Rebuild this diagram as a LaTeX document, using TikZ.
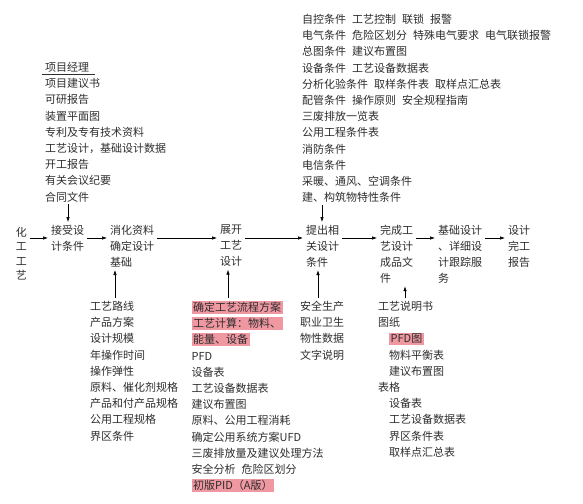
\documentclass[tikz,border=0pt]{standalone}
\usepackage{fontspec}
\setmainfont{Noto Sans CJK SC}
\usetikzlibrary{arrows.meta}
\definecolor{hlpink}{RGB}{240,152,162}
\definecolor{ink}{RGB}{45,45,45}
\setlength{\fboxsep}{1.5pt}
\newcommand{\hilite}[1]{\colorbox{hlpink}{#1}}
\newcommand{\ind}{\hspace*{11pt}}
\newcommand{\gap}{\hspace{6pt}}
\newcommand{\headline}[1]{\rlap{\hspace*{-3pt}\rule[-3pt]{53pt}{0.6pt}}#1}
\tikzset{
  stage/.style={anchor=north west, inner sep=0pt, outer sep=3pt, align=left,
    font=\fontsize{11}{16}\selectfont, text=ink},
  itemlist/.style={anchor=north west, inner sep=0pt, align=left,
    font=\fontsize{11}{16.2}\selectfont, text=ink},
}
\begin{document}
\begin{tikzpicture}[x=1pt,y=-1pt]
      \useasboundingbox (0,0) rectangle (583,503);
      \begin{scope}[every node/.style={stage}]
      \node[font=\fontsize{11}{14.5}\selectfont] (src) at (13,224) {化\\工\\工\\艺};
      \node (recv) at (48,222) {接受设\\计条件};
      \node (digest) at (107,222) {消化资料\\确定设计\\基础};
      \node (expand) at (217,222) {展开\\工艺\\设计};
      \node (issue) at (303,222) {提出相\\关设计\\条件};
      \node (finish) at (377,222) {完成工\\艺设计\\成品文\\件};
      \node (basic) at (435,222) {基础设计\\、详细设\\计跟踪服\\务};
      \node (report) at (505,222) {设计\\完工\\报告};
      \end{scope}
      \begin{scope}[every node/.style={itemlist}]
      \node (pm) at (45,62) {\headline{项目经理}\\项目建议书\\可研报告\\装置平面图\\专利及专有技术资料\\工艺设计，基础设计数据\\开工报告\\有关会议纪要\\合同文件};
      \node (cond) at (302,14) {自控条件\gap 工艺控制\gap 联锁\gap 报警\\电气条件\gap 危险区划分\gap 特殊电气要求\gap 电气联锁报警\\总图条件\gap 建议布置图\\设备条件\gap 工艺设备数据表\\分析化验条件\gap 取样条件表\gap 取样点汇总表\\配管条件\gap 操作原则\gap 安全规程指南\\三废排放一览表\\公用工程条件表\\消防条件\\电信条件\\采暖、通风、空调条件\\建、构筑物特性条件};
      \node (basis) at (90,301) {工艺路线\\产品方案\\设计规模\\年操作时间\\操作弹性\\原料、催化剂规格\\产品和付产品规格\\公用工程规格\\界区条件};
      \node (calc) at (191.5,300.5) {\hilite{确定工艺流程方案}\\\hilite{工艺计算：物料、}\\\hilite{能量、设备}\\PFD\\设备表\\工艺设备数据表\\建议布置图\\原料、公用工程消耗\\确定公用系统方案UFD\\三废排放量及建议处理方法\\安全分析\gap 危险区划分\\\hilite{初版PID（A版）}};
      \node (safety) at (300,301) {安全生产\\职业卫生\\物性数据\\文字说明};
      \node (docs) at (378,301) {工艺说明书\\图纸\\\ind\hilite{PFD图}\\\ind 物料平衡表\\\ind 建议布置图\\表格\\\ind 设备表\\\ind 工艺设备数据表\\\ind 界区条件表\\\ind 取样点汇总表};
      \end{scope}
      % where the connectors run
      \coordinate (row) at (0,238);
      \coordinate (x1) at (68,0);
      \coordinate (x2) at (115,0);
      \coordinate (x3) at (228,0);
      \coordinate (x4) at (322,0);
      \coordinate (x5) at (318,0);
      \coordinate (x6) at (405,0);
      \begin{scope}[every edge/.style={draw=black,line width=0.6pt,-{Latex[length=5pt,width=3.5pt]}}]
      \path (src.east |- row) edge (recv.west |- row);
      \path (recv.east |- row) edge (digest.west |- row);
      \path (digest.east |- row) edge (expand.west |- row);
      \path (expand.east |- row) edge (issue.west |- row);
      \path (issue.east |- row) edge (finish.west |- row);
      \path (finish.east |- row) edge (basic.west |- row);
      \path (basic.east |- row) edge (report.west |- row);
      \path ([yshift=-2pt]x1 |- pm.south) edge (x1 |- recv.north);
      \path ([yshift=-2pt]x4 |- cond.south) edge (x4 |- issue.north);
      \path ([yshift=3pt]x2 |- basis.north) edge (x2 |- digest.south);
      \path ([yshift=3pt]x3 |- calc.north) edge (x3 |- expand.south);
      \path ([yshift=3pt]x5 |- safety.north) edge (x5 |- issue.south);
      \path ([yshift=3pt]x6 |- docs.north) edge (x6 |- finish.south);
      \end{scope}
      \end{tikzpicture}
\end{document}
